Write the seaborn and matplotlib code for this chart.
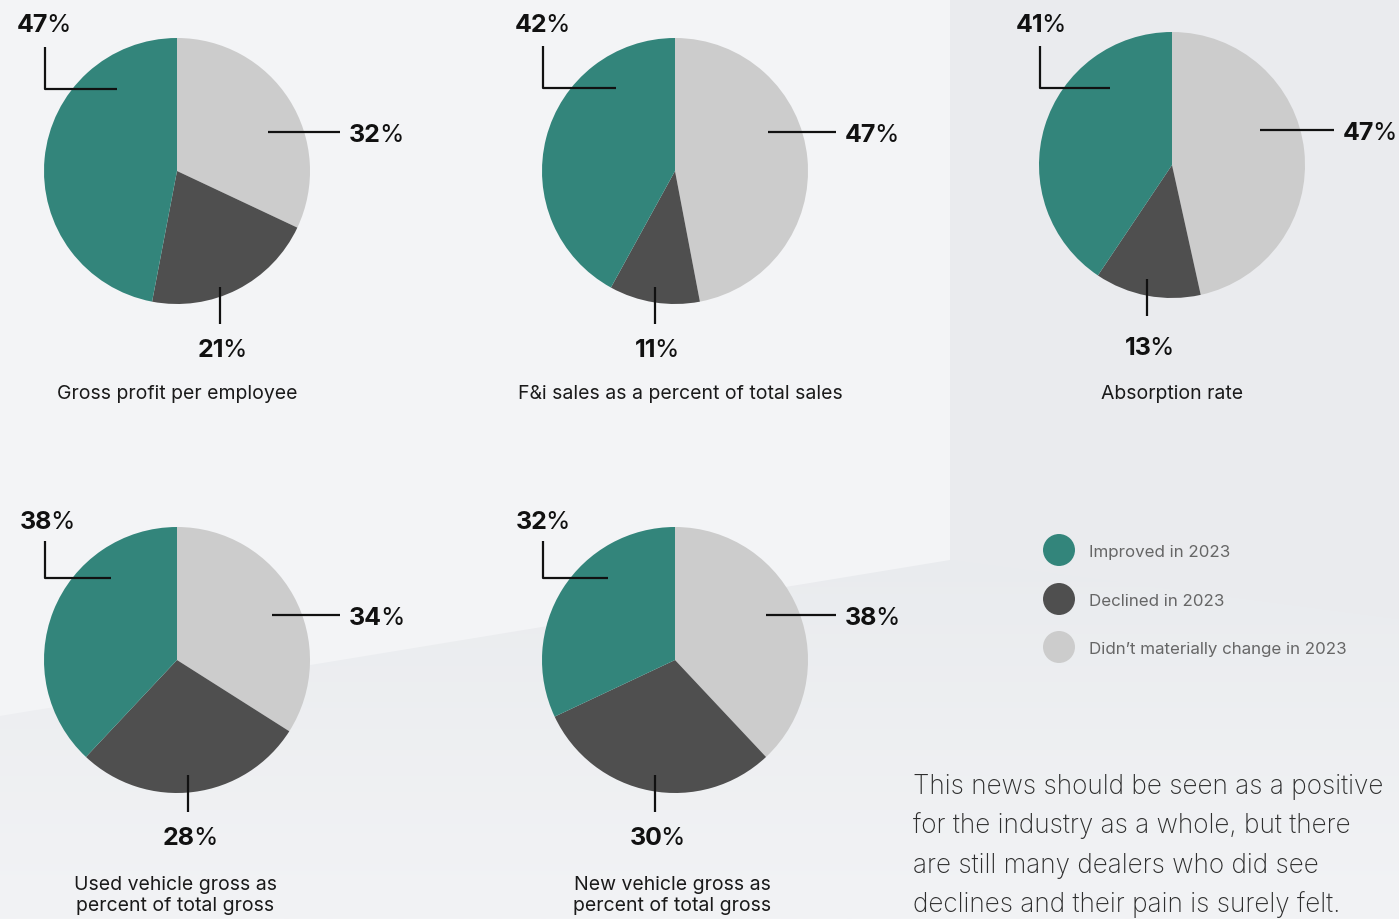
import matplotlib
matplotlib.use("Agg")
import matplotlib.pyplot as plt
import numpy as np
import pandas as pd
import seaborn as sns
from matplotlib.patches import Polygon

# ---- data -------------------------------------------------------------
titles = [
    "Gross profit per employee",
    "F&i sales as a percent of total sales",
    "Absorption rate",
    "Used vehicle gross as\npercent of total gross",
    "New vehicle gross as\npercent of total gross",
]
improved = [47, 42, 41, 38, 32]
declined = [21, 11, 13, 28, 30]
unchanged = [32, 47, 47, 34, 38]

legend_labels = ["Improved in 2023", "Declined in 2023", "Didn\u2019t materially change in 2023"]
paragraph = [
    "This news should be seen as a positive",
    "for the industry as a whole, but there",
    "are still many dealers who did see",
    "declines and their pain is surely felt.",
]

# ---- style ------------------------------------------------------------
TEAL, DARK, LIGHT = "#33857b", "#4f4f4f", "#cccccc"
palette = dict(zip(legend_labels, [TEAL, DARK, LIGHT]))
sns.set_theme(style="white")
plt.rcParams["font.family"] = ["Inter", "DejaVu Sans"]

W, H = 1399, 920
R = 133  # pie radius in pixels

# pixel layout of each panel (centre, label anchors, title baseline)
layout = [
    dict(c=(177, 172), tl_x=45, tl_y=(48, 90), tl_end=117, tl_txt=(44, 23),
         r_y=133, r_x=(268, 340), b_x=220, b_y=(288, 325), b_txt=348, t=(177, 399)),
    dict(c=(675, 172), tl_x=543, tl_y=(47, 89), tl_end=616, tl_txt=(542, 23),
         r_y=133, r_x=(768, 836), b_x=655, b_y=(288, 325), b_txt=348, t=(680, 399)),
    dict(c=(1172, 166), tl_x=1040, tl_y=(47, 89), tl_end=1110, tl_txt=(1041, 23),
         r_y=131, r_x=(1260, 1334), b_x=1147, b_y=(280, 317), b_txt=346, t=(1172, 399)),
    dict(c=(177, 661), tl_x=45, tl_y=(542, 579), tl_end=111, tl_txt=(47, 520),
         r_y=616, r_x=(272, 340), b_x=188, b_y=(776, 813), b_txt=836, t=(175, 890)),
    dict(c=(675, 661), tl_x=543, tl_y=(542, 579), tl_end=608, tl_txt=(543, 520),
         r_y=616, r_x=(766, 836), b_x=655, b_y=(776, 813), b_txt=836, t=(672, 890)),
]

fig = plt.figure(figsize=(W / 100, H / 100), dpi=100)
fig.patch.set_facecolor("#f1f2f4")

# ---- background room -------------------------------------------------
bg = fig.add_axes([0, 0, 1, 1], zorder=0)
bg.axis("off")
floor = np.linspace(0, 1, 200).reshape(-1, 1)
bg.imshow(floor, extent=(0, W, H, 540), aspect="auto", zorder=0,
          cmap=matplotlib.colors.LinearSegmentedColormap.from_list(
              "floor", ["#e9ebee", "#f2f3f5"]))
bg.add_patch(Polygon([(0, 0), (950, 0), (950, 561), (0, 717)], closed=True,
                     facecolor="#f3f4f6", edgecolor="none", zorder=1))
bg.add_patch(Polygon([(950, 0), (W, 0), (W, 620), (950, 561)], closed=True,
                     facecolor="#eaebee", edgecolor="none", zorder=1))
bg.set_xlim(0, W)
bg.set_ylim(H, 0)

# ---- pies -------------------------------------------------------------
for i, lay in enumerate(layout):
    cx, cy = lay["c"]
    pax = fig.add_axes([(cx - R) / W, 1 - (cy + R) / H, 2 * R / W, 2 * R / H], zorder=1)
    pax.pie([unchanged[i], declined[i], improved[i]], colors=[LIGHT, DARK, TEAL],
            startangle=90, counterclock=False, radius=1,
            wedgeprops=dict(linewidth=0))
    pax.set_xlim(-1, 1)
    pax.set_ylim(-1, 1)
    pax.set_facecolor("none")

# ---- annotations overlay ---------------------------------------------
ax = fig.add_axes([0, 0, 1, 1], zorder=2)
ax.axis("off")
ax.patch.set_alpha(0)

NUM_FS = 18
CAP = NUM_FS * 100 / 72 * 0.727  # cap height of the numbers in pixels
LINE_KW = dict(color="#111111", lw=1.6, solid_capstyle="butt")

# ---- legend -----------------------------------------------------------
leg = pd.DataFrame({"label": legend_labels, "x": [1059] * 3, "y": [551, 600, 648]})
sns.scatterplot(data=leg, x="x", y="y", hue="label", palette=palette, s=530,
                edgecolor="none", legend=False, ax=ax)
for _, row in leg.iterrows():
    ax.text(1089, row["y"] + 6, row["label"], fontsize=12.2, color="#666666",
            ha="left", va="baseline")
ax.set_xlim(0, W)
ax.set_ylim(H, 0)
ax.set_xlabel("")
ax.set_ylabel("")

renderer = fig.canvas.get_renderer()


def pct_label(x, y, value, align):
    """Bold number followed by a regular-weight percent sign."""
    base = y + CAP / 2
    num = ax.text(0, base, str(value), fontsize=NUM_FS, fontweight="bold",
                  color="#111111", ha="left", va="baseline")
    pct = ax.text(0, base, "%", fontsize=NUM_FS, color="#111111", ha="left",
                  va="baseline")
    inv = ax.transData.inverted()

    def width(t):
        bb = t.get_window_extent(renderer)
        (x0, _), (x1, _) = inv.transform([(bb.x0, bb.y0), (bb.x1, bb.y1)])
        return x1 - x0

    wn, wp = width(num), width(pct)
    start = x if align == "left" else x - (wn + wp - 2) / 2
    num.set_x(start)
    pct.set_x(start + wn - 2)


for i, lay in enumerate(layout):
    # improved (top-left)
    x0 = lay["tl_x"]
    y0, y1 = lay["tl_y"]
    ax.plot([x0, x0, lay["tl_end"]], [y0, y1, y1], **LINE_KW)
    pct_label(*lay["tl_txt"], improved[i], "center")
    # unchanged (right)
    rx0, rx1 = lay["r_x"]
    ax.plot([rx0, rx1], [lay["r_y"]] * 2, **LINE_KW)
    pct_label(rx1 + 9, lay["r_y"], unchanged[i], "left")
    # declined (bottom)
    by0, by1 = lay["b_y"]
    ax.plot([lay["b_x"]] * 2, [by0, by1], **LINE_KW)
    pct_label(lay["b_x"] + 2, lay["b_txt"], declined[i], "center")
    # panel title
    lines = titles[i].split("\n")
    for k, line in enumerate(lines):
        ax.text(lay["t"][0], lay["t"][1] + 21 * k, line, fontsize=14,
                color="#1a1a1a", ha="center", va="baseline")

# ---- side paragraph ---------------------------------------------------
for k, line in enumerate(paragraph):
    ax.text(913, 794 + 39.5 * k, line, fontsize=18.8, color="#2e2e2e",
            fontweight="light", ha="left", va="baseline")

ax.set_xlim(0, W)
ax.set_ylim(H, 0)
fig.savefig("out.png", dpi=100, facecolor=fig.get_facecolor())
